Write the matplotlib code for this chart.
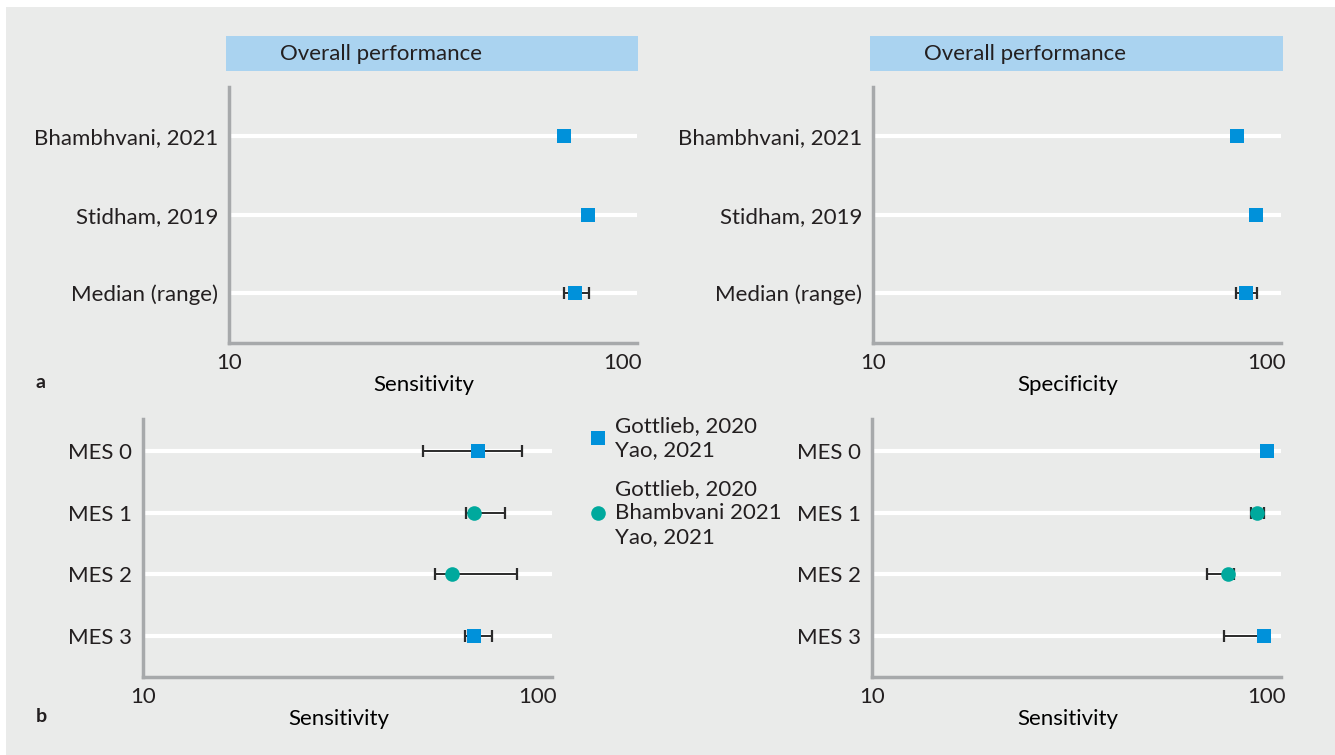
import matplotlib
matplotlib.use("Agg")
import matplotlib.pyplot as plt
from matplotlib.lines import Line2D
from matplotlib.patches import Rectangle

# data
study_labels = ["Bhambhvani, 2021", "Stidham, 2019", "Median (range)"]
sens_overall = [86.6, 92.0, 89.1]
sens_overall_lo = [86.6, 92.0, 86.5]
sens_overall_hi = [86.6, 92.0, 92.3]
spec_overall = [93.3, 97.6, 95.3]
spec_overall_lo = [93.3, 97.6, 93.0]
spec_overall_hi = [93.3, 97.6, 97.8]

mes_labels = ["MES 0", "MES 1", "MES 2", "MES 3"]
mes_group = ["sq", "ci", "ci", "sq"]   # sq = Gottlieb/Yao, ci = Gottlieb/Bhambvani/Yao
sens_mes = [86.4, 85.5, 80.6, 85.5]
sens_mes_lo = [73.8, 83.6, 76.7, 83.4]
sens_mes_hi = [96.5, 92.6, 95.3, 89.6]
spec_mes = [100.0, 97.8, 91.2, 99.4]
spec_mes_lo = [100.0, 96.5, 86.4, 90.3]
spec_mes_hi = [100.0, 99.4, 92.6, 99.4]

BG = "#eaebea"
BLUE = "#0091da"
TEAL = "#00a99d"
SPINE = "#a7a9ab"
TXT = "#231f20"
FS = 16

plt.rcParams["font.family"] = ["Lato", "DejaVu Sans"]
plt.rcParams["text.color"] = TXT

W, H = 1335, 755
fig = plt.figure(figsize=(W / 100, H / 100), dpi=100)
fig.patch.set_facecolor("white")
# gray panel with thin white strip on top/left
fig.patches.append(Rectangle((6 / W, 0), 1, 1 - 7 / H, transform=fig.transFigure,
                             facecolor=BG, edgecolor="none", zorder=-10))


def panel(rect, labels, vals, lo, hi, groups, xlabel, ylim):
    ax = fig.add_axes([rect[0] / W, 1 - rect[3] / H, (rect[2] - rect[0]) / W, (rect[3] - rect[1]) / H])
    ax.set_facecolor(BG)
    ypos = list(range(len(labels)))
    for y in ypos:
        ax.axhline(y, color="white", lw=3, zorder=1)
    for i in ypos:
        color = BLUE if groups[i] == "sq" else TEAL
        mk = "s" if groups[i] == "sq" else "o"
        ms = 9.5 if mk == "s" else 10.5
        if hi[i] > lo[i]:
            ax.errorbar(vals[i], i, xerr=[[vals[i] - lo[i]], [hi[i] - vals[i]]], fmt="none",
                        ecolor="#2b2b2b", elinewidth=1.4, capsize=4, capthick=1.6, zorder=2)
        ax.plot(vals[i], i, marker=mk, color=color, ms=ms, mew=0, ls="none", zorder=3)
    ax.set_xlim(10, 103.3)
    ax.set_ylim(*ylim)
    ax.set_xticks([10, 100])
    ax.set_xticklabels(["10", "100"])
    ax.set_yticks(ypos)
    ax.set_yticklabels(labels)
    ax.tick_params(length=0, labelsize=FS, colors=TXT)
    ax.tick_params(axis="y", pad=8)
    ax.tick_params(axis="x", pad=7)
    ax.set_xlabel(xlabel, fontsize=FS)
    h = rect[3] - rect[1]
    ax.xaxis.set_label_coords(0.5 - 9 / (rect[2] - rect[0]), -0.105 - 5 / h)
    for s in ["top", "right"]:
        ax.spines[s].set_visible(False)
    for s in ["left", "bottom"]:
        ax.spines[s].set_color(SPINE)
        ax.spines[s].set_linewidth(2.5)
    return ax


top_ylim = (2.64, -0.63)
bot_ylim = (3.67, -0.52)

panel((229, 87, 637, 343), study_labels, sens_overall, sens_overall_lo, sens_overall_hi,
      ["sq"] * 3, "Sensitivity", top_ylim)
panel((873, 87, 1281, 343), study_labels, spec_overall, spec_overall_lo, spec_overall_hi,
      ["sq"] * 3, "Specificity", top_ylim)
panel((143, 419, 552, 677), mes_labels, sens_mes, sens_mes_lo, sens_mes_hi,
      mes_group, "Sensitivity", bot_ylim)
panel((872, 419, 1281, 677), mes_labels, spec_mes, spec_mes_lo, spec_mes_hi,
      mes_group, "Sensitivity", bot_ylim)

# title boxes
for x0, x1 in [(226, 638), (870, 1283)]:
    fig.patches.append(Rectangle((x0 / W, 1 - 71 / H), (x1 - x0) / W, 35 / H,
                                 transform=fig.transFigure, facecolor="#aad3f0",
                                 edgecolor="none", zorder=0))
    fig.text((x0 + 155) / W, 1 - 54 / H, "Overall performance", fontsize=FS,
             ha="center", va="center")

fig.text(41 / W, 1 - 383 / H, "a", fontsize=14, fontweight="bold", ha="center", va="center")
fig.text(41 / W, 1 - 716 / H, "b", fontsize=14, fontweight="bold", ha="center", va="center")

handles = [Line2D([], [], marker="s", color=BLUE, ls="none", ms=9.5, mew=0),
           Line2D([], [], marker="o", color=TEAL, ls="none", ms=10.5, mew=0)]
leg = fig.legend(handles, ["Gottlieb, 2020\nYao, 2021", "Gottlieb, 2020\nBhambvani 2021\nYao, 2021"],
                 loc="upper left", bbox_to_anchor=(587 / W, 1 - 416 / H), frameon=False,
                 fontsize=FS, borderpad=0, borderaxespad=0, handlelength=1.0,
                 handletextpad=0.25, labelspacing=0.85)
for t in leg.get_texts():
    t.set_linespacing(1.25)

fig.savefig("out.png", dpi=100, facecolor=fig.get_facecolor())
